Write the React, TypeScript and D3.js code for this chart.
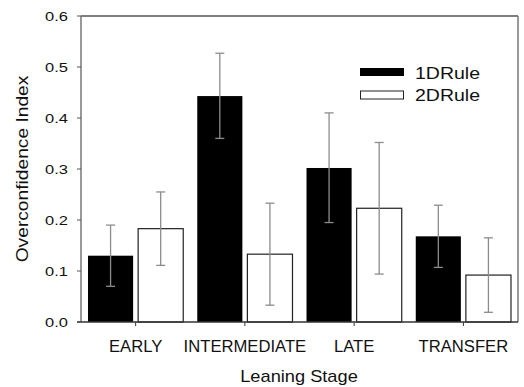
import * as d3 from "d3";
import React from "react";

const stages = ["EARLY", "INTERMEDIATE", "LATE", "TRANSFER"];
const series = ["1DRule", "2DRule"];
const rule1Mean = [0.13, 0.443, 0.302, 0.168];
const rule1Low = [0.07, 0.36, 0.195, 0.107];
const rule1High = [0.19, 0.527, 0.41, 0.229];
const rule2Mean = [0.183, 0.133, 0.223, 0.092];
const rule2Low = [0.111, 0.033, 0.094, 0.019];
const rule2High = [0.255, 0.233, 0.352, 0.165];
const yTicks = [0, 0.1, 0.2, 0.3, 0.4, 0.5, 0.6];

const width = 524;
const height = 387;
const margin = { top: 16, right: 6, bottom: 65, left: 81 };
const font = "Arial, 'Liberation Sans', Helvetica, sans-serif";

// text drawn a little wider than the font, as in the original figure
function Label({ x, y, sx = 1, size = 16, anchor = "start", rotate = 0, dy, children }: any) {
    return (
        <text
            transform={`translate(${x}, ${y}) rotate(${rotate}) scale(${sx}, 1)`}
            textAnchor={anchor}
            dy={dy}
            fontFamily={font}
            fontSize={size}
            fill="#111"
        >
            {children}
        </text>
    );
}

function App() {
    const x0 = d3
        .scaleBand()
        .domain(stages)
        .range([margin.left, width - margin.right])
        .padding(0);
    const x1 = d3
        .scaleBand()
        .domain(series)
        .range([0, x0.bandwidth()])
        .paddingInner(0.1)
        .paddingOuter(0.14);
    const y = d3
        .scaleLinear()
        .domain([0, 0.6])
        .range([height - margin.bottom, margin.top]);

    const rows = stages.flatMap((s, i) => [
        { stage: s, key: series[0], mean: rule1Mean[i], lo: rule1Low[i], hi: rule1High[i] },
        { stage: s, key: series[1], mean: rule2Mean[i], lo: rule2Low[i], hi: rule2High[i] },
    ]);

    const x0l = margin.left;
    const x0r = width - margin.right;
    const yb = y(0);
    const yt = y(0.6);

    return (
        <svg width={width} height={height} style={{ position: "absolute", left: 0, top: 0 }}>
            <rect width={width} height={height} fill="white" />

            {/* bars */}
            {rows.map((d, i) => {
                const bx = x0(d.stage)! + x1(d.key)!;
                const black = d.key === series[0];
                return (
                    <rect
                        key={"b" + i}
                        x={bx}
                        y={y(d.mean)}
                        width={x1.bandwidth()}
                        height={yb - y(d.mean)}
                        fill={black ? "#000" : "#fff"}
                        stroke={black ? "none" : "#222"}
                        strokeWidth={1.2}
                    />
                );
            })}

            {/* error bars */}
            {rows.map((d, i) => {
                const cx = x0(d.stage)! + x1(d.key)! + x1.bandwidth() / 2;
                return (
                    <g key={"e" + i} stroke="#8c8c8c" strokeWidth={1.3}>
                        <line x1={cx} x2={cx} y1={y(d.lo)} y2={y(d.hi)} />
                        <line x1={cx - 4.5} x2={cx + 4.5} y1={y(d.lo)} y2={y(d.lo)} />
                        <line x1={cx - 4.5} x2={cx + 4.5} y1={y(d.hi)} y2={y(d.hi)} />
                    </g>
                );
            })}

            {/* frame */}
            <line x1={x0l} x2={x0r} y1={yt} y2={yt} stroke="#000" strokeWidth={1.2} />
            <line x1={x0r} x2={x0r} y1={yt} y2={yb} stroke="#777" strokeWidth={1.5} />
            <line x1={x0l} x2={x0l} y1={yt} y2={yb} stroke="#777" strokeWidth={1.5} />
            <line x1={x0l - 4} x2={x0r} y1={yb} y2={yb} stroke="#333" strokeWidth={1.5} />

            {/* y ticks */}
            {yTicks.map((t) => (
                <g key={"yt" + t}>
                    <line x1={x0l - 4} x2={x0l} y1={y(t)} y2={y(t)} stroke="#555" strokeWidth={1} />
                    <Label x={68} y={y(t)} dy="0.36em" anchor="end" size={13.5} sx={1.22}>
                        {d3.format(".1f")(t)}
                    </Label>
                </g>
            ))}

            {/* x ticks */}
            {stages.map((s) => {
                const cx = x0(s)! + x0.bandwidth() / 2;
                return (
                    <g key={"xt" + s}>
                        <line x1={cx} x2={cx} y1={yb} y2={yb + 4} stroke="#333" strokeWidth={1} />
                        <Label x={cx} y={351.5} anchor="middle" size={16} sx={1.04}>
                            {s}
                        </Label>
                    </g>
                );
            })}

            {/* axis titles */}
            <Label x={299} y={381.5} anchor="middle" size={16} sx={1.14}>
                Leaning Stage
            </Label>
            <Label x={28} y={(yb + yt) / 2} anchor="middle" size={16} sx={1.2} rotate={-90}>
                Overconfidence Index
            </Label>

            {/* legend */}
            <rect x={360} y={68} width={44} height={8} fill="#000" />
            <rect x={360.5} y={91} width={43} height={8} fill="#fff" stroke="#222" strokeWidth={1} />
            <Label x={415} y={78.5} size={16} sx={1.22}>
                {series[0]}
            </Label>
            <Label x={415} y={101} size={16} sx={1.22}>
                {series[1]}
            </Label>
        </svg>
    );
}

export default App;
